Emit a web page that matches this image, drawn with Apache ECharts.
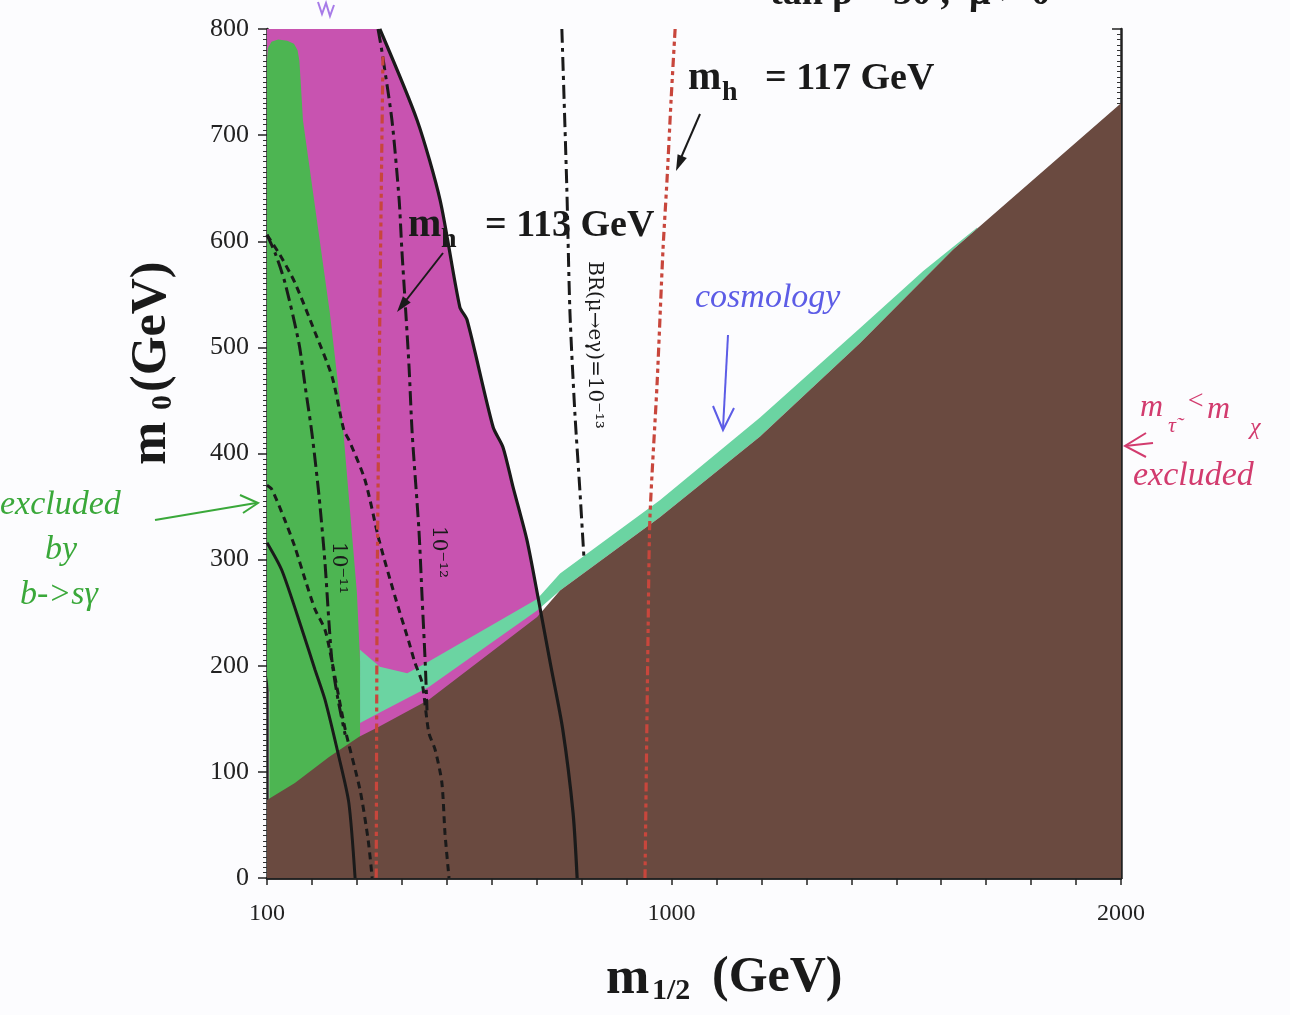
<!DOCTYPE html>
<html>
<head>
<meta charset="utf-8">
<script src="https://cdn.jsdelivr.net/npm/echarts@6/dist/echarts.min.js"></script>
<style>
html, body { margin: 0; background: #fcfcfe; }
#chart { width: 1290px; height: 1015px; }
</style>
</head>
<body>
<div id="chart"></div>
<script>
// axis ticks
var xTickLabels = [100, 1000, 2000];
var yTicks = [0, 100, 200, 300, 400, 500, 600, 700, 800];

// regions (m1/2, m0) in GeV
var brownEdge = [[100,73.5],[162,89.5],[238,114],[305,133],[351,143],[460,168],[701,246],[752,271],[974,340],[1197,416],[1419,504],[1626,592],[2000,730]];
var pinkRegion = [[100,800],[351,800],[434,714],[485,639],[529,538],[545,526],[603,425],[625,406],[647,369],[678,319],[701,269],[730,203],[758,140],[781,61],[790,0],[120,0],[120,190],[100,190]];
var greenRegion = [[100,770],[102,782],[110,788],[125,790],[145,789],[160,786],[168,780],[172,770],[175,750],[180,714],[211,620],[240,532],[269,425],[300,269],[307,205],[307,100],[105,60],[105,175],[100,190]];
var cosmoUpper = [[307,215],[351,199],[412,193],[456,203],[701,263],[752,287],[974,356],[1197,434],[1419,518],[1560,572],[1680,613]];
var cosmoLower = [[1680,612],[1626,592],[1419,504],[1197,416],[974,340],[752,271],[701,252],[460,180],[351,156],[307,146]];

// contours
var g2Edge = [[351,800],[434,714],[485,639],[529,538],[545,526],[603,425],[625,406],[647,369],[678,319],[701,269],[730,203],[758,140],[781,61],[790,0]];
var solidLeft = [[100,316],[133,290],[178,234],[207,196],[229,168],[260,114],[282,71],[296,0]];
var br11 = [[100,606],[118,589],[140,561],[171,504],[185,463],[200,419],[216,359],[229,297],[238,240],[245,203],[258,168],[274,135]];
var dashB = [[100,606],[129,587],[162,561],[207,514],[245,472],[271,422],[282,413],[318,375],[349,319],[385,265],[416,222],[429,203],[445,184],[460,137],[474,121],[489,90],[496,42],[505,0]];
var dashC = [[100,370],[111,366],[140,337],[162,312],[185,281],[207,253],[229,234],[245,203],[274,140],[307,83],[325,36],[334,0]];
var br12 = [[347,800],[356,778],[378,714],[394,639],[400,592],[407,545],[416,482],[423,419],[438,328],[445,265],[452,203],[456,158]];
var br13 = [[756,800],[767,651],[774,533],[785,438],[796,366],[805,303]];
var mh113 = [[358,774],[354,639],[349,451],[345,262],[343,0]];
var mh117 = [[1008,800],[999,733],[990,658],[981,592],[968,467],[952,340],[948,237],[941,0]];

var dom = document.getElementById('chart');
var myChart = echarts.init(dom);

function area(pts, color, z) {
	return {
		type: 'custom', z: z, clip: true, silent: true,
		encode: { x: 0, y: 1 },
		data: pts,
		renderItem: function (params, api) {
			if (params.dataIndex !== 0) return null;
			return {
				type: 'polygon',
				shape: { points: pts.map(function (p) { return api.coord(p); }) },
				style: { fill: color }
			};
		}
	};
}

function curve(pts, color, width, dash) {
	return {
		type: 'line', data: pts, showSymbol: false, smooth: 0.25, z: 6, silent: true,
		lineStyle: { color: color, width: width, type: dash }
	};
}

var serif = '"Liberation Serif", "DejaVu Serif", serif';
var hand = '"Liberation Serif", serif';

function txt(x, y, s, size, opt) {
	opt = opt || {};
	return {
		type: 'text', x: x, y: y, rotation: opt.rot || 0, z: 100,
		style: {
			text: s, fontSize: size, fontFamily: opt.font || serif,
			fontWeight: opt.weight || 'bold', fontStyle: opt.style || 'normal',
			fill: opt.color || '#1a1a1a', align: opt.align || 'left', verticalAlign: opt.va || 'middle'
		}
	};
}
function pl(points, color, w) {
	return { type: 'polyline', z: 100, shape: { points: points }, style: { stroke: color, lineWidth: w || 2, fill: null } };
}
function tri(points, color) {
	return { type: 'polygon', z: 100, shape: { points: points }, style: { fill: color } };
}
var handStyle = function (color) {
	return { font: hand, weight: 'normal', style: 'italic', color: color };
};

var option = {
	backgroundColor: '#fcfcfe',
	animation: false,
	grid: { left: 267, right: 169, top: 29, bottom: 137 },
	xAxis: [{
		type: 'value', min: 100, max: 2000, interval: 100,
		axisLine: { lineStyle: { color: '#222', width: 2.5 } },
		axisTick: { inside: false, length: 7, lineStyle: { color: '#222', width: 1.5 } },
		axisLabel: {
			margin: 24, color: '#222', fontSize: 24, fontFamily: serif,
			formatter: function (v) { return xTickLabels.indexOf(v) >= 0 ? String(v) : ''; }
		},
		splitLine: { show: false }
	}, {
		type: 'value', position: 'top', min: 100, max: 2000, interval: 100,
		axisLine: { lineStyle: { color: '#222', width: 2.5 } },
		axisTick: { inside: true, length: 7, lineStyle: { color: '#222', width: 1.5 } },
		axisLabel: { show: false }, splitLine: { show: false }
	}],
	yAxis: [{
		type: 'value', min: 0, max: 800, interval: 100,
		axisLine: { lineStyle: { color: '#222', width: 2.5 } },
		axisTick: { length: 9, lineStyle: { color: '#222', width: 1.5 } },
		minorTick: { show: true, splitNumber: 20, length: 4, lineStyle: { color: '#333', width: 1 } },
		axisLabel: {
			margin: 18, color: '#222', fontSize: 26, fontFamily: serif,
			formatter: function (v) { return yTicks.indexOf(v) >= 0 ? String(v) : ''; }
		},
		splitLine: { show: false }
	}, {
		type: 'value', position: 'right', min: 0, max: 800, interval: 100,
		axisLine: { lineStyle: { color: '#222', width: 2.5 } },
		axisTick: { inside: true, length: 9, lineStyle: { color: '#222', width: 1.5 } },
		minorTick: { show: true, splitNumber: 20, length: 4, lineStyle: { color: '#333', width: 1 } },
		axisLabel: { show: false }, splitLine: { show: false }
	}],
	series: [
		area(pinkRegion, '#c853b0', 1),
		area(cosmoUpper.concat(cosmoLower), '#6bd4a2', 2),
		area(greenRegion, '#4db552', 3),
		area(brownEdge.concat([[2000, 0], [100, 0]]), '#6a4a40', 4),
		curve(g2Edge, '#1a1a1a', 3.2, 'solid'),
		curve(solidLeft, '#1a1a1a', 3, 'solid'),
		curve(br11, '#1a1a1a', 3, [14, 5, 4, 5]),
		curve(dashB, '#1a1a1a', 3, [7, 5]),
		curve(dashC, '#1a1a1a', 3, [7, 5]),
		curve(br12, '#1a1a1a', 3, [14, 5, 4, 5]),
		curve(br13, '#1a1a1a', 3, [14, 5, 4, 5]),
		curve(mh113, '#c8463c', 3.2, [9, 4, 4, 4, 4, 4]),
		curve(mh117, '#c8463c', 3.2, [9, 4, 4, 4, 4, 4])
	],
	graphic: [
		// title, cut off at the top
		txt(770, 13, 'tan β = 50 ,  μ > 0', 38, { va: 'bottom' }),
		// higgs labels
		txt(688, 79, 'm', 40), txt(722, 93, 'h', 28), txt(765, 79, '= 117 GeV', 38),
		txt(408, 226, 'm', 40), txt(441, 240, 'h', 28), txt(485, 226, '= 113 GeV', 38),
		pl([[700, 114], [680, 160]], '#1a1a1a', 2),
		tri([[676, 171], [686.8, 158.1], [677.6, 154.3]], '#1a1a1a'),
		pl([[443, 253], [404, 303]], '#1a1a1a', 2),
		tri([[397, 312], [410.7, 302.5], [402.9, 296.3]], '#1a1a1a'),
		// BR labels
		txt(338, 568, '10⁻¹¹', 20, { rot: -Math.PI / 2, align: 'center', weight: 'normal', font: '"DejaVu Serif", serif' }),
		txt(438, 552, '10⁻¹²', 20, { rot: -Math.PI / 2, align: 'center', weight: 'normal', font: '"DejaVu Serif", serif' }),
		txt(594, 345, 'BR(μ→eγ)=10⁻¹³', 20, { rot: -Math.PI / 2, align: 'center', weight: 'normal', font: '"DejaVu Serif", serif' }),
		// axis names
		txt(606, 980, 'm', 52), txt(652, 991, '1/2', 30), txt(712, 978, '(GeV)', 50),
		txt(152, 465, 'm', 52, { rot: Math.PI / 2 }), txt(163, 410, '0', 30, { rot: Math.PI / 2 }), txt(152, 392, '(GeV)', 50, { rot: Math.PI / 2 }),
		// handwritten notes
		txt(695, 298, 'cosmology', 34, handStyle('#5c5ce6')),
		pl([[728, 335], [723, 428]], '#5c5ce6', 2),
		pl([[713, 406], [723, 430], [734, 408]], '#5c5ce6', 2),
		txt(0, 505, 'excluded', 34, handStyle('#3aa83a')),
		txt(45, 550, 'by', 34, handStyle('#3aa83a')),
		txt(20, 595, 'b->sγ', 34, handStyle('#3aa83a')),
		pl([[155, 520], [256, 503]], '#3aa83a', 2),
		pl([[240, 495], [258, 503], [243, 513]], '#3aa83a', 2),
		txt(1140, 408, 'm', 32, handStyle('#d23b6e')),
		txt(1168, 426, 'τ̃', 22, handStyle('#d23b6e')),
		txt(1186, 402, '<', 28, handStyle('#d23b6e')),
		txt(1207, 410, 'm', 32, handStyle('#d23b6e')),
		txt(1250, 428, 'χ', 24, handStyle('#d23b6e')),
		txt(1133, 476, 'excluded', 34, handStyle('#d23b6e')),
		pl([[1146, 433], [1125, 446], [1146, 457]], '#d23b6e', 2),
		pl([[1125, 446], [1153, 443]], '#d23b6e', 2),
		pl([[318, 2], [322, 14], [326, 3], [330, 16], [334, 5]], '#a77be8', 2)
	]
};

if (option && typeof option === 'object') {
	myChart.setOption(option, true);
}
window.onresize = function () {
	myChart.resize();
};
</script>
</body>
</html>
